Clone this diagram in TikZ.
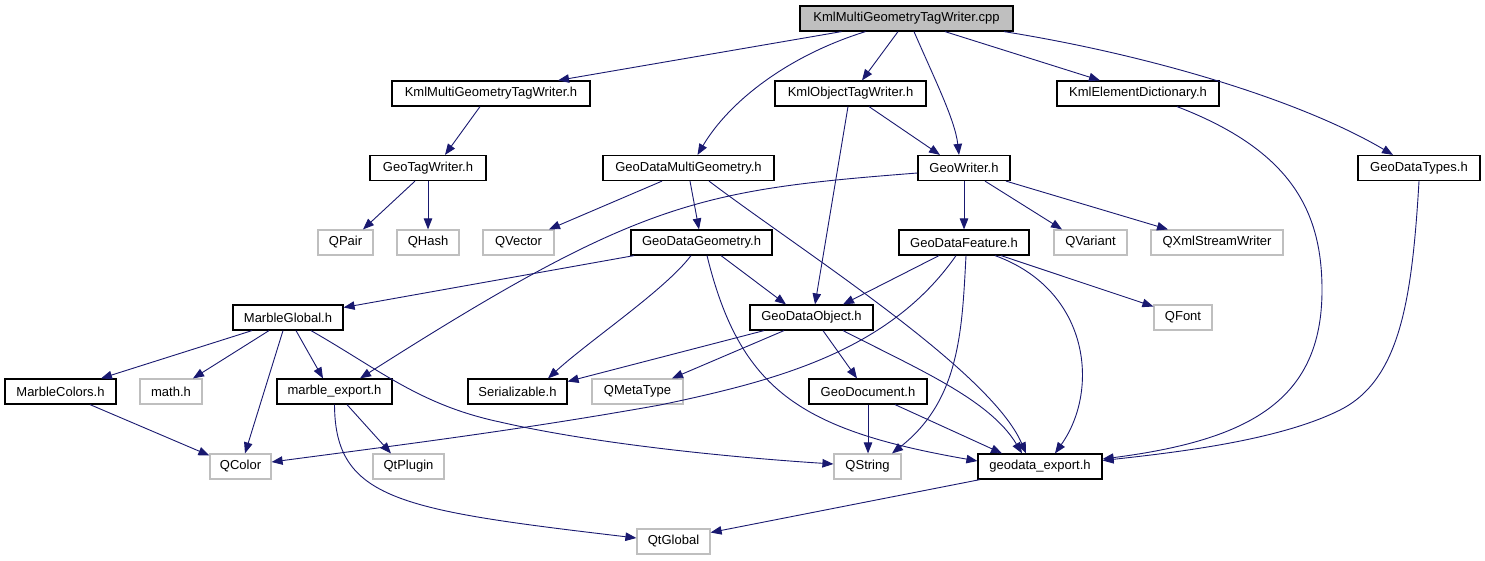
\documentclass[tikz,border=0pt]{standalone}
\usepackage{fontspec}
\setmainfont{Liberation Sans}
\usetikzlibrary{arrows.meta}
\definecolor{edgeblue}{HTML}{191970}
\definecolor{extgray}{HTML}{BFBFBF}
\begin{document}
\begin{tikzpicture}[x=1pt,y=-1pt,
 box/.style={draw=black, line width=1.2pt, rectangle, minimum height=25pt, inner sep=0pt, font=\fontsize{13}{15}\selectfont, anchor=center},
 ext/.style={box, draw=extgray},
 root/.style={box, fill=extgray},
 edge/.style={draw=edgeblue, line width=0.9pt, -{Triangle[length=11pt,width=8.5pt]}},
]
\useasboundingbox (0,0) rectangle (1485,560);
\fill[white] (0,0) rectangle (1485,560);

\node[root, minimum width=213pt] (cpp) at (906.5,18.5) {KmlMultiGeometryTagWriter.cpp};
\node[box, minimum width=198pt] (kmgh) at (491,93.5) {KmlMultiGeometryTagWriter.h};
\node[box, minimum width=151pt] (kotw) at (850.5,93.5) {KmlObjectTagWriter.h};
\node[box, minimum width=162pt] (ked) at (1138,93.5) {KmlElementDictionary.h};
\node[box, minimum width=116pt] (gtw) at (428,168) {GeoTagWriter.h};
\node[box, minimum width=171pt] (gdmg) at (688.5,168) {GeoDataMultiGeometry.h};
\node[box, minimum width=92pt] (gw) at (964,168) {GeoWriter.h};
\node[box, minimum width=122pt] (gdt) at (1419,168) {GeoDataTypes.h};
\node[ext, minimum width=55pt] (qpair) at (345.5,242.5) {QPair};
\node[ext, minimum width=62pt] (qhash) at (428,242.5) {QHash};
\node[ext, minimum width=71pt] (qvector) at (518.5,242.5) {QVector};
\node[box, minimum width=141pt] (gdg) at (701.5,242.5) {GeoDataGeometry.h};
\node[box, minimum width=130pt] (gdf) at (964,242.5) {GeoDataFeature.h};
\node[ext, minimum width=73pt] (qvariant) at (1090.5,242.5) {QVariant};
\node[ext, minimum width=132pt] (qxml) at (1217,242.5) {QXmlStreamWriter};
\node[box, minimum width=110pt] (mg) at (288,317.5) {MarbleGlobal.h};
\node[box, minimum width=123pt] (gdo) at (811.5,317.5) {GeoDataObject.h};
\node[ext, minimum width=58pt] (qfont) at (1183,317.5) {QFont};
\node[box, minimum width=111pt] (mc) at (60.5,391.5) {MarbleColors.h};
\node[ext, minimum width=62pt] (math) at (171,391.5) {math.h};
\node[box, minimum width=115pt] (me) at (334.5,391.5) {marble\_export.h};
\node[box, minimum width=99pt] (ser) at (517.5,391.5) {Serializable.h};
\node[ext, minimum width=91pt] (qmeta) at (637.5,391.5) {QMetaType};
\node[box, minimum width=118pt] (gdoc) at (868,391.5) {GeoDocument.h};
\node[ext, minimum width=61pt] (qcolor) at (240.5,466.5) {QColor};
\node[ext, minimum width=71pt] (qtplugin) at (408.5,466.5) {QtPlugin};
\node[ext, minimum width=67pt] (qstring) at (867.5,466.5) {QString};
\node[box, minimum width=124pt] (gde) at (1040,466.5) {geodata\_export.h};
\node[ext, minimum width=73pt] (qtglobal) at (673.5,541.5) {QtGlobal};

% from cpp
\draw[edge] ([xshift=-65pt]cpp.south) -- ([xshift=67pt]kmgh.north);
\draw[edge] ([xshift=-41pt]cpp.south) .. controls (790,55) and (730,100) .. ([xshift=9pt]gdmg.north);
\draw[edge] ([xshift=-8.5pt]cpp.south) -- ([xshift=11.5pt]kotw.north);
\draw[edge] ([xshift=7.5pt]cpp.south) .. controls (935,80) and (955,120) .. ([xshift=-5pt]gw.north);
\draw[edge] ([xshift=38.5pt]cpp.south) -- ([xshift=-38pt]ked.north);
\draw[edge] ([xshift=97.5pt]cpp.south) .. controls (1150,55) and (1300,100) .. ([xshift=-26pt]gdt.north);
% row 2
\draw[edge] ([xshift=-11pt]kmgh.south) -- ([xshift=17pt]gtw.north);
\draw[edge] ([xshift=18.5pt]kotw.south) -- ([xshift=-24pt]gw.north);
\draw[edge] ([xshift=-2.5pt]kotw.south) -- ([xshift=3.5pt]gdo.north);
\draw[edge] ([xshift=39pt]ked.south) .. controls (1290,150) and (1322,210) .. (1322,290) .. controls (1322,400) and (1250,440) .. ([yshift=7.5pt]gde.east);
% row 3
\draw[edge] ([xshift=-13pt]gtw.south) -- ([xshift=17.5pt]qpair.north);
\draw[edge] (gtw.south) -- (qhash.north);
\draw[edge] (gdt.south) .. controls (1412,300) and (1400,380) .. (1340,410) .. controls (1280,440) and (1180,452) .. ([yshift=6pt]gde.east);
\draw[edge] ([xshift=-26.5pt]gdmg.south) -- ([xshift=30.5pt]qvector.north);
\draw[edge] ([xshift=1.5pt]gdmg.south) -- ([xshift=-2.5pt]gdg.north);
\draw[edge] ([xshift=20.5pt]gdmg.south) .. controls (800,250) and (990,370) .. ([xshift=-14pt]gde.north);
\draw[edge] ([yshift=-5pt]gw.west) .. controls (700,190) and (640,200) .. ([xshift=25.5pt]me.north);
\draw[edge] (gw.south) -- (gdf.north);
\draw[edge] ([xshift=21pt]gw.south) -- ([xshift=-28.5pt]qvariant.north);
\draw[edge] ([xshift=42pt]gw.south) -- ([xshift=-49pt]qxml.north);
% row 4
\draw[edge] ([xshift=-67.5pt]gdg.south) -- ([yshift=10pt]mg.east);
\draw[edge] ([xshift=-10.5pt]gdg.south) .. controls (665,290) and (590,340) .. ([xshift=30.5pt]ser.north);
\draw[edge] ([xshift=19.5pt]gdg.south) -- ([xshift=-25.5pt]gdo.north);
\draw[edge] ([xshift=5.5pt]gdg.south) .. controls (740,390) and (800,430) .. ([yshift=5.5pt]gde.west);
\draw[edge] ([xshift=-25pt]gdf.south) -- ([xshift=31.5pt]gdo.north);
\draw[edge] ([xshift=-8pt]gdf.south) .. controls (890,350) and (780,380) .. (660,405) .. controls (520,430) and (400,445) .. ([yshift=4.5pt]qcolor.east);
\draw[edge] ([xshift=2pt]gdf.south) .. controls (962,330) and (960,400) .. ([xshift=24.5pt]qstring.north);
\draw[edge] ([xshift=31pt]gdf.south) .. controls (1090,290) and (1100,390) .. ([xshift=15pt]gde.north);
\draw[edge] ([xshift=37pt]gdf.south) -- ([yshift=11pt]qfont.west);
% row 5
\draw[edge] ([xshift=-47.5pt]gdo.south) -- ([yshift=10pt]ser.east);
\draw[edge] ([xshift=-27.5pt]gdo.south) -- ([xshift=34.5pt]qmeta.north);
\draw[edge] ([xshift=11.5pt]gdo.south) -- ([xshift=-11pt]gdoc.north);
\draw[edge] ([xshift=31.5pt]gdo.south) .. controls (920,370) and (990,400) .. ([xshift=-18pt]gde.north);
\draw[edge] ([xshift=-36pt]mg.south) -- ([xshift=40.5pt]mc.north);
\draw[edge] ([xshift=-19pt]mg.south) -- ([xshift=22pt]math.north);
\draw[edge] ([xshift=-5pt]mg.south) -- ([xshift=4.5pt]qcolor.north);
\draw[edge] ([xshift=8pt]mg.south) -- ([xshift=-11.5pt]me.north);
\draw[edge] ([xshift=23pt]mg.south) .. controls (380,370) and (420,405) .. (500,422) .. controls (600,445) and (740,458) .. ([yshift=2.5pt]qstring.west);
% row 6
\draw[edge] ([xshift=29.5pt]mc.south) -- ([yshift=11pt]qcolor.west);
\draw[edge] ([xshift=12.5pt]me.south) -- ([xshift=-17.5pt]qtplugin.north);
\draw[edge] (me.south) .. controls (335,500) and (400,510) .. ([yshift=3.5pt]qtglobal.west);
\draw[edge] (gdoc.south) -- ([xshift=0.5pt]qstring.north);
\draw[edge] ([xshift=27pt]gdoc.south) -- ([xshift=-38pt]gde.north);
% row 7
\draw[edge] ([xshift=-60pt]gde.south) -- ([yshift=9pt]qtglobal.east);
\end{tikzpicture}
\end{document}
